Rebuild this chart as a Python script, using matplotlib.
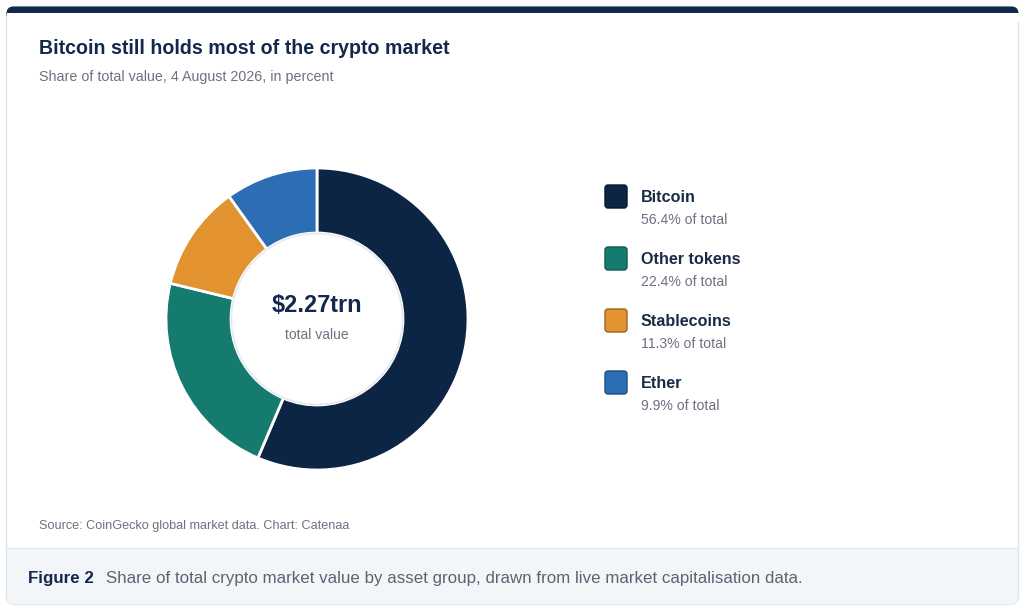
import matplotlib
matplotlib.use("Agg")
import matplotlib.pyplot as plt
from matplotlib.patches import FancyBboxPatch, Rectangle, Circle

categories = ["Bitcoin", "Other tokens", "Stablecoins", "Ether"]
shares = [56.4, 22.4, 11.3, 9.9]
colors = ["#0c2545", "#167b6f", "#e2922f", "#2c6db3"]
edge_colors = ["#08182e", "#0f5a51", "#9a6420", "#1d4d80"]
total_label = "$2.27trn"

plt.rcParams['font.family'] = ['Liberation Sans', 'DejaVu Sans']

W, H = 1024, 608
fig = plt.figure(figsize=(W / 100, H / 100), dpi=100)

bg = fig.add_axes([0, 0, 1, 1])
bg.set_xlim(0, W)
bg.set_ylim(H, 0)
bg.axis("off")

# card
card = FancyBboxPatch((6.5, 6.5), 1012, 598, boxstyle="round,pad=0,rounding_size=9",
                      facecolor="white", edgecolor="#dde2e8", linewidth=1.0, zorder=1)
bg.add_patch(card)
# top dark bar
topbar = FancyBboxPatch((6.5, 6.5), 1012, 14, boxstyle="round,pad=0,rounding_size=7",
                        facecolor="#13294b", edgecolor="none", zorder=2)
bg.add_patch(topbar)
bg.add_patch(Rectangle((6.5, 13), 1012, 9, facecolor="white", edgecolor="none", zorder=3))
# caption area
cap = FancyBboxPatch((7, 548), 1011, 56.5, boxstyle="round,pad=0,rounding_size=8",
                     facecolor="#f3f6f9", edgecolor="none", zorder=2)
bg.add_patch(cap)
bg.add_patch(Rectangle((7, 548), 1011, 10, facecolor="#f3f6f9", edgecolor="none", zorder=2))
bg.plot([7, 1018], [548, 548], color="#e3e7ec", lw=1.0, zorder=3)

# titles
bg.text(39, 48, "Bitcoin still holds most of the crypto market", fontsize=14.1,
        fontweight="bold", color="#13294b", va="center", ha="left", zorder=5)
bg.text(39, 77, "Share of total value, 4 August 2026, in percent", fontsize=10.3,
        color="#6b7280", va="center", ha="left", zorder=5)

# legend
for i, (cat, val) in enumerate(zip(categories, shares)):
    y0 = 197 + i * 62
    sq = FancyBboxPatch((605, y0 - 12), 22, 23, boxstyle="round,pad=0,rounding_size=3",
                        facecolor=colors[i], edgecolor=edge_colors[i], linewidth=1.0, zorder=5)
    bg.add_patch(sq)
    bg.text(641, y0, cat, fontsize=11.6, fontweight="bold", color="#1a2b45",
            va="center", ha="left", zorder=5)
    bg.text(641, y0 + 23, f"{val:.1f}% of total", fontsize=10.1, color="#6b7280",
            va="center", ha="left", zorder=5)

# source and caption
bg.text(39, 526, "Source: CoinGecko global market data. Chart: Catenaa", fontsize=9.05,
        color="#6b7280", va="center", ha="left", zorder=5)
bg.text(28, 578, "Figure 2", fontsize=12.2, fontweight="bold", color="#13294b",
        va="center", ha="left", zorder=5)
bg.text(106, 578, "Share of total crypto market value by asset group, drawn from live market capitalisation data.",
        fontsize=12.2, color="#5b6472", va="center", ha="left", zorder=5)

# donut
cx, cy, R = 317, 319, 160
ax = fig.add_axes([(cx - R) / W, (H - cy - R) / H, 2 * R / W, 2 * R / H])
outer = 151 / R
inner = 86 / R
ax.pie(shares, colors=colors, startangle=90, counterclock=False, radius=outer,
       wedgeprops=dict(width=outer - inner, edgecolor="white", linewidth=2))
ax.add_patch(Circle((0, 0), inner - 0.003, facecolor="white", edgecolor="#e6e9ee", linewidth=1.2))
ax.set_xlim(-1, 1)
ax.set_ylim(-1, 1)
ax.set_aspect("equal")
ax.axis("off")
ax.text(0, 14 / R, total_label, fontsize=16.9, fontweight="bold", color="#13294b",
        ha="center", va="center")
ax.text(0, -16 / R, "total value", fontsize=10, color="#6b7280", ha="center", va="center")

fig.savefig("out.png", dpi=100, facecolor="white")
